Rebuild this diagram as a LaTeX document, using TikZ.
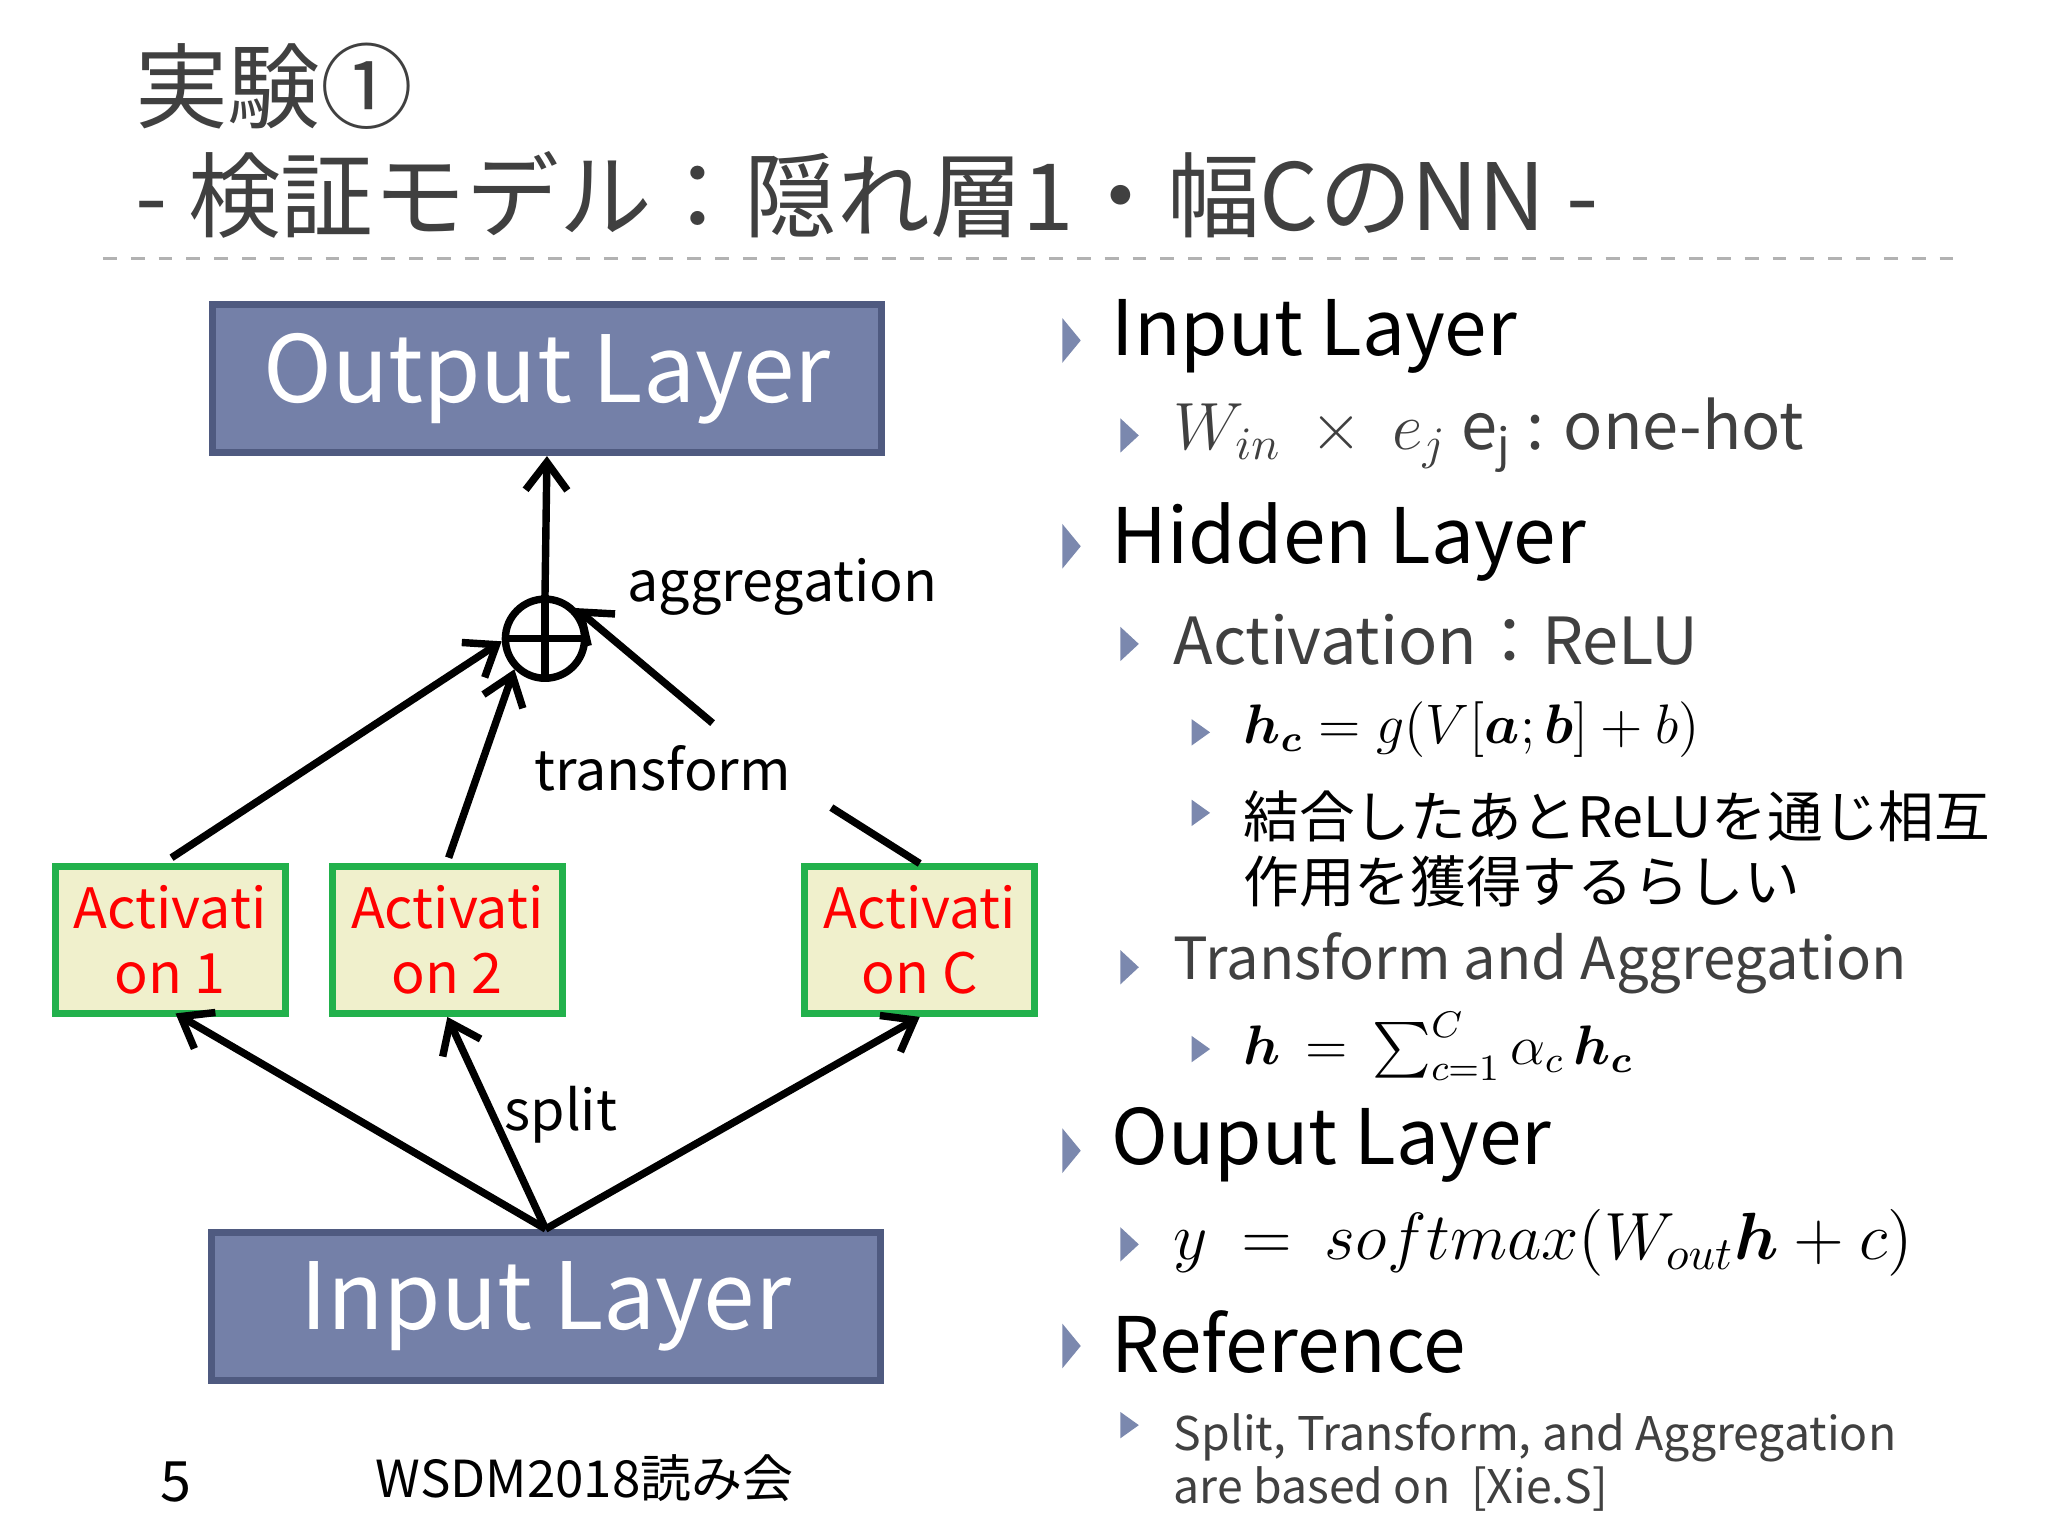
\documentclass[tikz,border=0pt]{standalone}
\usepackage{amsmath,bm}
\usepackage{fontspec}
\setmainfont{Noto Sans CJK JP}
\usetikzlibrary{arrows.meta}
\definecolor{boxblue}{HTML}{7480A8}
\definecolor{boxedge}{HTML}{4F5A80}
\definecolor{actfill}{HTML}{F0F0CC}
\definecolor{actedge}{HTML}{22B14C}
\definecolor{txt}{HTML}{404040}
\definecolor{bul}{HTML}{7B88AE}
\tikzset{
 layer/.style={draw=boxedge,line width=1.5pt,fill=boxblue,text=white,minimum width=5.07cm,minimum height=1.12cm,font=\fontsize{20}{22}\selectfont},
 act/.style={draw=actedge,line width=1.5pt,fill=actfill,text=red,minimum width=1.74cm,minimum height=1.11cm,align=center,font=\fontsize{12}{14}\selectfont},
 arr/.style={line width=1.6pt,-{Straight Barb[length=6pt,width=9pt]}},
 ln/.style={line width=1.6pt},
 lab/.style={font=\fontsize{12}{14}\selectfont,text=black},
 b1/.style={anchor=west,text=black,font=\fontsize{16.5}{18}\selectfont},
 b2/.style={anchor=west,text=txt,font=\fontsize{14}{16}\selectfont},
 b3/.style={anchor=west,text=black,font=\fontsize{12}{15}\selectfont,align=left},
 b4/.style={anchor=west,text=txt,font=\fontsize{10}{11.5}\selectfont,align=left},
}
\newcommand{\tri}[3]{\fill[bul] (#1-0.07,#2+#3) -- (#1+0.07,#2) -- (#1-0.07,#2-#3) -- cycle;}
\begin{document}
\begin{tikzpicture}[x=1cm,y=1cm]
\useasboundingbox[fill=white] (0,0) rectangle (15.52,-11.64);
% title
\node[anchor=west,text=txt,font=\fontsize{20}{22}\selectfont] (t1) at (0.9,-0.65) {実験①};
\node[anchor=west,text=txt,font=\fontsize{20}{22}\selectfont] (t2) at (0.9,-1.48) {- 検証モデル：隠れ層1・幅CのNN -};
\draw[gray!60,dashed,line width=0.6pt] (0.78,-1.96) -- (14.9,-1.96);
% diagram
\node[layer] (out) at (4.145,-2.87) {Output Layer};
\node[layer] (in) at (4.135,-9.9) {Input Layer};
\node[act] (a1) at (1.29,-7.125) {Activati\\on 1};
\node[act] (a2) at (3.39,-7.125) {Activati\\on 2};
\node[act] (aC) at (6.97,-7.125) {Activati\\on C};
\node[draw,circle,line width=1.6pt,minimum size=0.6cm,inner sep=0pt] (plus) at (4.13,-4.84) {};
\draw[line width=1.6pt] (plus.north)--(plus.south) (plus.west)--(plus.east);
\draw[arr] (plus.north) -- (out.south);
\draw[arr] (1.3,-6.5) -- (plus.west |- 0,-4.86) ;
\draw[arr] (3.4,-6.5) -- (plus.south west);
\coordinate (c1) at (6.3,-6.12);
\coordinate (c2) at (5.4,-5.48);
\draw[ln] (aC.north) -- (c1);
\draw[arr] (c2) -- (plus.north east);
\draw[arr] (in.north) -- (1.33,-7.68);
\draw[arr] (in.north) -- (a2.south);
\draw[arr] (in.north) -- (aC.south);
\node[lab] (agg) at (5.93,-4.45) {aggregation};
\node[lab] (tr) at (5.02,-5.82) {transform};
\node[lab] (sp) at (4.25,-8.45) {split};
% right
\tri{8.12}{-2.58}{0.17}\node[b1] (r1) at (8.3,-2.55) {Input Layer};
\tri{8.56}{-3.3}{0.13}\node[b2] (r2) at (8.77,-3.3) {$W_{in}\ \times\ e_j$ e$_\mathrm{j}$ : one-hot};
\tri{8.12}{-4.14}{0.17}\node[b1] (r3) at (8.3,-4.11) {Hidden Layer};
\tri{8.56}{-4.88}{0.13}\node[b2] (r4) at (8.77,-4.85) {Activation：ReLU};
\tri{9.1}{-5.55}{0.1}\node[b3] (r5) at (9.3,-5.53) {$\bm{h_c} = g(V[\bm{a};\bm{b}]+b)$};
\tri{9.1}{-6.16}{0.1}\node[b3,anchor=north west,font=\fontsize{12}{14}\selectfont] (r6) at (9.3,-5.87) {結合したあとReLUを通じ相互\\作用を獲得するらしい};
\tri{8.56}{-7.33}{0.13}\node[b2,font=\fontsize{12.5}{14}\selectfont] (r7) at (8.77,-7.3) {Transform and Aggregation};
\tri{9.1}{-7.95}{0.1}\node[b3] (r8) at (9.3,-7.93) {$\bm{h}\,=\,\sum_{c=1}^{C}\alpha_c\,\bm{h_c}$};
\tri{8.12}{-8.72}{0.17}\node[b1] (r9) at (8.3,-8.68) {Ouput Layer};
\tri{8.56}{-9.43}{0.13}\node[b3,font=\fontsize{14}{16}\selectfont] (r10) at (8.77,-9.42) {$y\ =\ softmax(W_{out}\bm{h}+c)$};
\tri{8.12}{-10.2}{0.17}\node[b1] (r11) at (8.3,-10.17) {Reference};
\tri{8.56}{-10.8}{0.1}\node[b4,anchor=north west] (r12) at (8.77,-10.58) {Split, Transform, and Aggregation\\are based on\ \ [Xie.S]};
% footer
\node[text=black,font=\fontsize{12}{14}\selectfont] (pg) at (1.33,-11.23) {5};
\node[text=black,font=\fontsize{11}{13}\selectfont] (ft) at (4.43,-11.2) {WSDM2018読み会};
\end{tikzpicture}
\end{document}
